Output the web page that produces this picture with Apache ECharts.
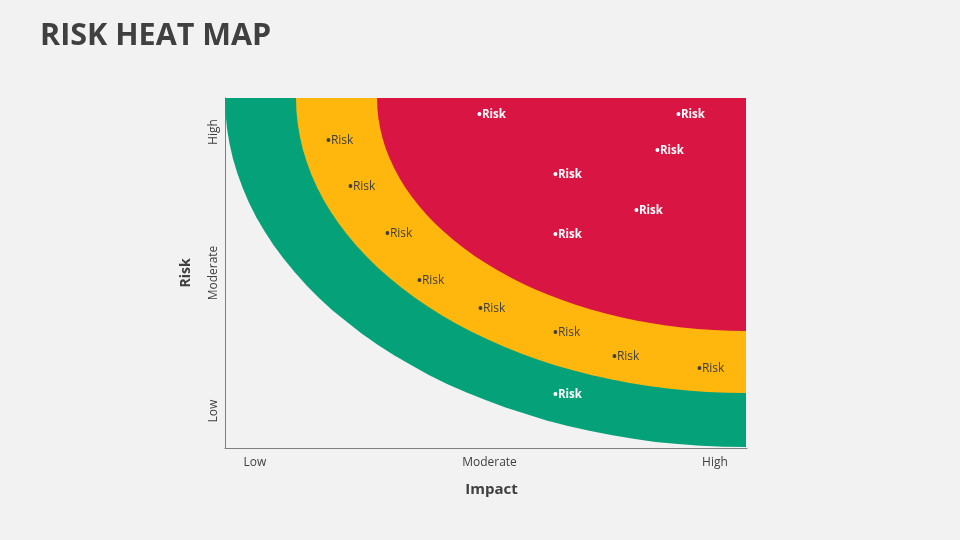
<!DOCTYPE html>
<html>
<head>
<meta charset="utf-8">
<style>
html, body { margin: 0; padding: 0; background: #f2f2f2; }
#chart { width: 960px; height: 540px; }
</style>
<script src="https://cdn.jsdelivr.net/npm/echarts@6/dist/echarts.min.js"></script>
</head>
<body>
<div id="chart"></div>
<script>
// band edges: [impact, risk]
var greenEdge = [[0,350],[0.5,334.8],[2,319.6],[4.5,304.5],[7.9,289.4],[12.4,274.5],[17.8,259.7],[24.1,245.1],[31.4,230.6],[39.7,216.4],[48.8,202.5],[58.9,188.9],[70,175.5],[81.6,162.5],[94,150],[107.6,137.5],[122,126],[136.9,114.2],[153,103],[169,92.7],[186,83],[203.8,73.1],[222,64],[241,55.7],[260.5,48],[280.5,40.4],[301,34],[321.6,27.6],[343,22],[364.3,17.2],[386,13],[408.3,9.3],[430.5,6],[453,4],[475.5,2.3],[498.3,1.3],[521,1]];
var yellowEdge = [[71,350],[71.4,337],[72.7,324.3],[74.9,311.5],[77.8,298.8],[81.7,286.2],[86.3,273.6],[91.8,261.3],[98.1,249.1],[105.2,237.1],[113.2,225.3],[121.9,213.8],[131.3,202.5],[141.5,191.5],[152.4,180.8],[164,170.4],[176.3,160.4],[189.2,150.7],[202.8,141.4],[217,132.5],[231.7,124],[247,115.9],[262.9,108.4],[279.2,101.2],[296,94.5],[313.2,88.3],[330.8,82.6],[348.8,77.4],[367.1,72.8],[385.7,68.7],[404.5,65.1],[423.6,62],[442.9,59.5],[462.3,57.5],[481.8,56.1],[501.4,55.3],[521,55]];
var redEdge = [[152,350],[152.4,339.8],[153.4,329.7],[155.2,319.6],[157.6,309.5],[160.7,299.6],[164.6,289.7],[169.1,279.9],[174.3,270.3],[180.1,260.8],[186.6,251.5],[193.7,242.4],[201.4,233.5],[209.8,224.8],[218.7,216.4],[228.2,208.2],[238.3,200.2],[248.9,192.6],[260.1,185.2],[271.7,178.2],[283.8,171.5],[296.4,165.1],[309.3,159.1],[322.7,153.5],[336.5,148.2],[350.6,143.3],[365.1,138.8],[379.8,134.7],[394.8,131.1],[410,127.8],[425.5,124.9],[441.1,122.5],[456.9,120.5],[472.8,119],[488.8,117.9],[504.9,117.2],[521,117]];

var whiteRisks = [[254,335],[453,335],[432,299],[330,275],[411,239],[330,215],[330,55]];
var darkRisks = [[103,309],[125,263],[162,216],[194,169],[255,141],[330,117],[389,93],[474,81]];

var impactValues = [30, 264.5, 490];
var impactLabels = ['Low', 'Moderate', 'High'];
var riskValues = [37, 175, 316];
var riskLabels = ['Low', 'Moderate', 'High'];

var textColor = '#404040';
var font = '"Open Sans"';

function band(edge, color) {
  return {
    type: 'line',
    data: edge,
    symbol: 'none',
    silent: true,
    lineStyle: { width: 0 },
    areaStyle: { color: color, opacity: 1, origin: 'end' }
  };
}

function risks(data, color, weight, size) {
  return {
    type: 'scatter',
    data: data,
    symbolSize: 1,
    itemStyle: { color: 'transparent', opacity: 1 },
    silent: true,
    z: 5,
    label: {
      show: true,
      position: 'right',
      distance: 0,
      offset: [-2.5, 2],
      formatter: '{b|•}Risk',
      color: color,
      opacity: 1,
      fontFamily: font,
      fontSize: size,
      fontWeight: weight,
      rich: { b: { color: color, fontFamily: font, fontSize: 13, fontWeight: 'bold' } }
    }
  };
}

var chart = echarts.init(document.getElementById('chart'));
chart.setOption({
  animation: false,
  backgroundColor: '#f2f2f2',
  title: {
    text: 'RISK HEAT MAP',
    left: 35,
    top: 16,
    textStyle: { color: textColor, fontFamily: font, fontSize: 30.5, fontWeight: 'bold' }
  },
  grid: { left: 225, right: 213, top: 98, bottom: 92 },
  xAxis: {
    type: 'value',
    min: 0,
    max: 522,
    name: 'Impact',
    nameLocation: 'middle',
    nameGap: 34,
    nameTextStyle: { color: textColor, fontFamily: font, fontSize: 15, fontWeight: 'bold', padding: [0, 0, 0, 11] },
    splitLine: { show: false },
    axisTick: { show: false },
    axisLine: { show: true, onZero: false, lineStyle: { color: '#7f7f7f', width: 1 } },
    axisLabel: {
      customValues: impactValues,
      margin: 9,
      color: textColor,
      fontFamily: font,
      fontSize: 12,
      formatter: function (v) { return impactLabels[impactValues.indexOf(v)]; }
    }
  },
  yAxis: {
    type: 'value',
    min: 0,
    max: 350,
    name: 'Risk',
    nameLocation: 'middle',
    nameGap: 32,
    nameTextStyle: { color: textColor, fontFamily: font, fontSize: 14, fontWeight: 'bold' },
    splitLine: { show: false },
    axisTick: { show: false },
    axisLine: { show: true, onZero: false, lineStyle: { color: '#7f7f7f', width: 1 } },
    axisLabel: {
      customValues: riskValues,
      rotate: 90,
      margin: 5,
      color: textColor,
      fontFamily: font,
      fontSize: 12,
      formatter: function (v) { return riskLabels[riskValues.indexOf(v)]; }
    }
  },
  series: [
    band(greenEdge, '#05a27a'),
    band(yellowEdge, '#ffb60d'),
    band(redEdge, '#d91543'),
    risks(whiteRisks, '#ffffff', 'bold', 11.5),
    risks(darkRisks, textColor, 'normal', 12)
  ]
});
</script>
</body>
</html>
